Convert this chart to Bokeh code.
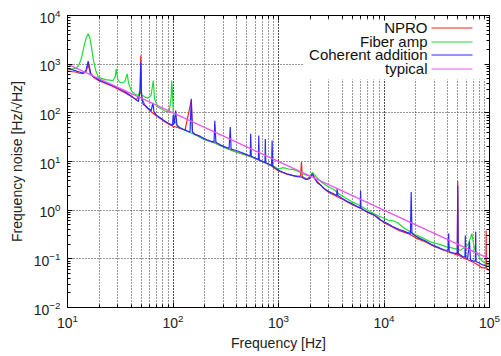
from bokeh.plotting import figure
from bokeh.models import LogAxis, LogTicker, Range1d, Label, BoxAnnotation, CustomJSTickFormatter
from bokeh.embed import file_html
from bokeh.resources import INLINE

# ---------------- data ----------------
freq_npro = [10, 11, 12, 13, 14, 15, 15.7, 16.5, 18, 20, 23, 26, 30, 35, 40, 45, 48.8, 49.5, 50.3,
             55, 60, 70, 80, 90, 100, 110, 130, 149, 153, 170, 200, 250, 300, 400, 500, 600, 700,
             850, 1000, 1200, 1450, 1620, 1650, 1680, 1850, 2100, 2300, 2600, 3000, 3500, 4000,
             5000, 6000, 7000, 8500, 10000, 12000, 14000, 17000, 20000, 25000, 30000, 37000,
             44000, 49500, 50000, 50500, 56000, 63000, 70000, 78000, 85000, 92500, 93000, 93500,
             97000, 100000]
npro = [720, 700, 690, 650, 640, 700, 1000, 620, 520, 450, 400, 360, 310, 260, 220, 185, 250, 1500, 200,
        135, 112, 86, 70, 60, 53, 50, 44, 180, 40, 34, 28, 24, 20, 15.5, 13.5, 11.5, 10,
        8.2, 6.4, 5.5, 5.0, 5.0, 9.7, 4.9, 4.3, 5.4, 4.0, 3.0, 2.3, 1.95, 1.7,
        1.3, 1.1, 0.9, 0.75, 0.55, 0.45, 0.38, 0.33, 0.27, 0.22, 0.18, 0.15,
        0.13, 0.12, 4.0, 0.12, 0.105, 0.095, 0.085, 0.075, 0.065, 0.065, 0.38, 0.065,
        0.06, 0.058]

freq_fiber = [10, 11, 12, 12.8, 13.5, 14, 14.5, 15, 15.7, 16.2, 16.8, 17.5, 18.5, 19.5, 21, 23, 25, 27,
              28.3, 29, 29.8, 31, 33, 35, 36.8, 38, 40, 41, 44, 47, 49, 49.5, 50.3, 54, 58, 62, 65,
              67, 72, 78, 83, 88, 92, 96, 97, 98.5, 100.5, 103, 108, 115, 130, 150, 170, 200, 250,
              300, 400, 500, 600, 700, 850, 1000, 1100, 1250, 1400, 1600, 1800, 2000, 2100, 2250,
              2500, 2800, 3000, 3400, 3800, 4300, 4900, 5500, 6000, 6500, 7000, 8000, 9000, 10000,
              11000, 12300, 13500, 15000, 17000, 20000, 24000, 28000, 33000, 38000, 43000, 48000,
              53000, 58000, 63000, 68000, 72000, 78000, 85000, 92000, 100000]
fiber = [800, 790, 820, 950, 1300, 1800, 2600, 3400, 4200, 3600, 2400, 1300, 750, 560, 510, 480, 470, 460,
         550, 800, 500, 430, 410, 440, 630, 400, 300, 270, 240, 230, 300, 600, 240, 210, 200, 230, 460,
         190, 130, 120, 110, 105, 110, 200, 460, 300, 110, 70, 58, 50, 44, 38, 34, 28, 24,
         20, 15.5, 13.5, 11.5, 10, 8.5, 7.0, 7.5, 7.0, 6.8, 6.0, 5.3, 5.0, 6.0, 5.0,
         3.9, 3.3, 3.0, 2.6, 2.1, 1.8, 1.5, 1.35, 1.2, 1.1, 1.0, 0.85, 0.75, 0.68,
         0.62, 0.6, 0.55, 0.45, 0.38, 0.31, 0.26, 0.22, 0.2, 0.18, 0.17, 0.16,
         0.15, 0.17, 0.2, 0.33, 0.16, 0.12, 0.09, 0.08, 0.075]

freq_coh = [10, 10.5, 11, 11.5, 12, 12.5, 13, 13.5, 14, 14.5, 15, 15.4, 15.7, 16.1, 16.6, 17.5, 18.5,
            20, 21.5, 23, 25, 27, 29, 31, 33, 35, 38, 41, 44, 47, 48.8, 49.5, 50.3, 52, 55, 58, 62,
            64.5, 66, 70, 75, 80, 85, 90, 95, 99, 100.5, 103, 106, 109, 115, 125, 135, 145, 149,
            153, 160, 175, 190, 210, 230, 245, 249, 255, 280, 310, 340, 349, 355, 390, 440, 490,
            540, 545, 552, 600, 645, 650, 657, 700, 745, 750, 757, 800, 860, 870, 880, 930, 1000,
            1100, 1200, 1350, 1500, 1650, 1800, 1950, 2100, 2200, 2350, 2500, 2700, 3000, 3300,
            3550, 3600, 3650, 4000, 4500, 5000, 5500, 5950, 6000, 6050, 6500, 7000, 8000, 9000,
            10000, 11000, 12000, 13000, 14000, 15000, 16500, 17800, 18100, 18400, 20000, 22000,
            25000, 28000, 31000, 35000, 38000, 40500, 41000, 41500, 44000, 47000, 49500, 50000,
            50500, 53000, 56000, 58500, 59000, 59500, 62000, 64600, 66000, 70000, 73500, 74000,
            74500, 80000, 86000, 92000, 96000, 100000]
coh = [820, 790, 770, 750, 735, 700, 690, 670, 660, 680, 760, 950, 1150, 900, 650, 560, 520,
       470, 440, 410, 385, 360, 335, 310, 290, 275, 240, 215, 190, 170, 300, 1100, 250, 150, 140, 125, 110,
       160, 105, 88, 80, 72, 66, 61, 58, 56, 90, 60, 112, 55, 50, 46, 43, 40, 195,
       40, 36, 34, 31, 28, 26, 25, 69, 25, 22, 20, 18.5, 51, 18, 17, 15.5, 14,
       13, 37, 12.8, 11.8, 11, 34, 10.8, 10, 9.6, 29, 9.4, 9, 8.3, 27, 8.1, 7.4, 6.6,
       6, 5.6, 5.2, 4.9, 4.8, 4.3, 4.4, 5.6, 4.5, 3.6, 3.3, 2.8, 2.4, 2.2,
       2.0, 2.7, 2.0, 1.75, 1.5, 1.35, 1.2, 1.1, 2.5, 1.1, 1.0, 0.92, 0.8, 0.65,
       0.58, 0.52, 0.46, 0.43, 0.40, 0.38, 0.35, 0.33, 2.35, 0.33, 0.29, 0.26,
       0.23, 0.2, 0.18, 0.16, 0.15, 0.15, 0.33, 0.14, 0.135, 0.13, 0.13, 3.2,
       0.13, 0.12, 0.11, 0.11, 0.3, 0.105, 0.1, 0.23, 0.095, 0.09, 0.09, 0.36,
       0.088, 0.082, 0.075, 0.072, 0.07, 0.07]

freq_typical = [10, 100000]
typical = [1000, 0.1]

series_names = ["NPRO", "Fiber amp", "Coherent addition", "typical"]
series_colors = ["#ff2020", "#22dd33", "#2a2aff", "#ee55ee"]

FONT = "Liberation Sans"

p = figure(width=501, height=356, x_axis_type="log", y_axis_type="log",
           x_range=Range1d(10, 1e5), y_range=Range1d(1e-2, 1e4),
           output_backend="svg", toolbar_location=None,
           min_border_left=67, min_border_right=12, min_border_top=15, min_border_bottom=49,
           background_fill_color="white", border_fill_color="white")

p.outline_line_color = "black"
p.outline_line_width = 1

# grids
GRID = "#333333"
p.xgrid.grid_line_color = GRID
p.xgrid.grid_line_dash = "1 2"
p.xgrid.minor_grid_line_color = GRID
p.xgrid.minor_grid_line_dash = "1 2"
p.ygrid.grid_line_color = GRID
p.ygrid.grid_line_dash = "1 2"
p.ygrid.minor_grid_line_color = None

for ax in [p.xaxis[0], p.yaxis[0]]:
    ax.major_tick_in = 5
    ax.major_tick_out = 0
    ax.minor_tick_in = 3
    ax.minor_tick_out = 0
    ax.axis_line_color = "black"
    ax.major_label_text_font = FONT
    ax.major_label_text_font_size = "14px"
    ax.major_label_text_color = "#222222"
    ax.axis_label_text_font = FONT
    ax.axis_label_text_font_size = "14px"
    ax.axis_label_text_font_style = "normal"
    ax.axis_label_text_color = "#222222"

p.xaxis.major_label_standoff = 6
p.yaxis.major_label_standoff = 7
p.xaxis.axis_label = "Frequency [Hz]"
p.yaxis.axis_label = "Frequency noise [Hz/\u221aHz]"
p.xaxis.axis_label_standoff = 4
p.yaxis.axis_label_standoff = 6

for loc in ["right", "above"]:
    extra = LogAxis(ticker=LogTicker(num_minor_ticks=10),
                    formatter=CustomJSTickFormatter(code="return ''"))
    extra.major_tick_in = 5
    extra.major_tick_out = 0
    extra.minor_tick_in = 3
    extra.minor_tick_out = 0
    extra.major_label_text_font_size = "1px"
    extra.major_label_standoff = 0
    extra.axis_line_color = "black"
    p.add_layout(extra, loc)

# data lines
p.line(freq_npro, npro, line_color=series_colors[0], line_width=1.2)
p.line(freq_fiber, fiber, line_color=series_colors[1], line_width=1.2)
p.line(freq_coh, coh, line_color=series_colors[2], line_width=1.2)
p.line(freq_typical, typical, line_color=series_colors[3], line_width=1.2)

# legend (gnuplot style: text right-aligned, sample to the right)
p.add_layout(BoxAnnotation(left=236, right=418, bottom=228, top=287,
                           left_units="screen", right_units="screen",
                           top_units="screen", bottom_units="screen",
                           fill_color="white", fill_alpha=1.0, line_color=None,
                           level="underlay"))
row_y = [280, 266, 253, 239]
for name, col, yy in zip(series_names, series_colors, row_y):
    p.add_layout(Label(x=360, y=yy, x_units="screen", y_units="screen", text=name,
                       text_align="right", text_baseline="middle",
                       text_font=FONT, text_font_size="15px", text_color="#111111"))
    p.add_layout(BoxAnnotation(left=364, right=405, bottom=yy - 1, top=yy,
                               left_units="screen", right_units="screen",
                               top_units="screen", bottom_units="screen",
                               fill_color=col, fill_alpha=1.0, line_color=None))

open("out.html", "w").write(file_html(p, INLINE))
